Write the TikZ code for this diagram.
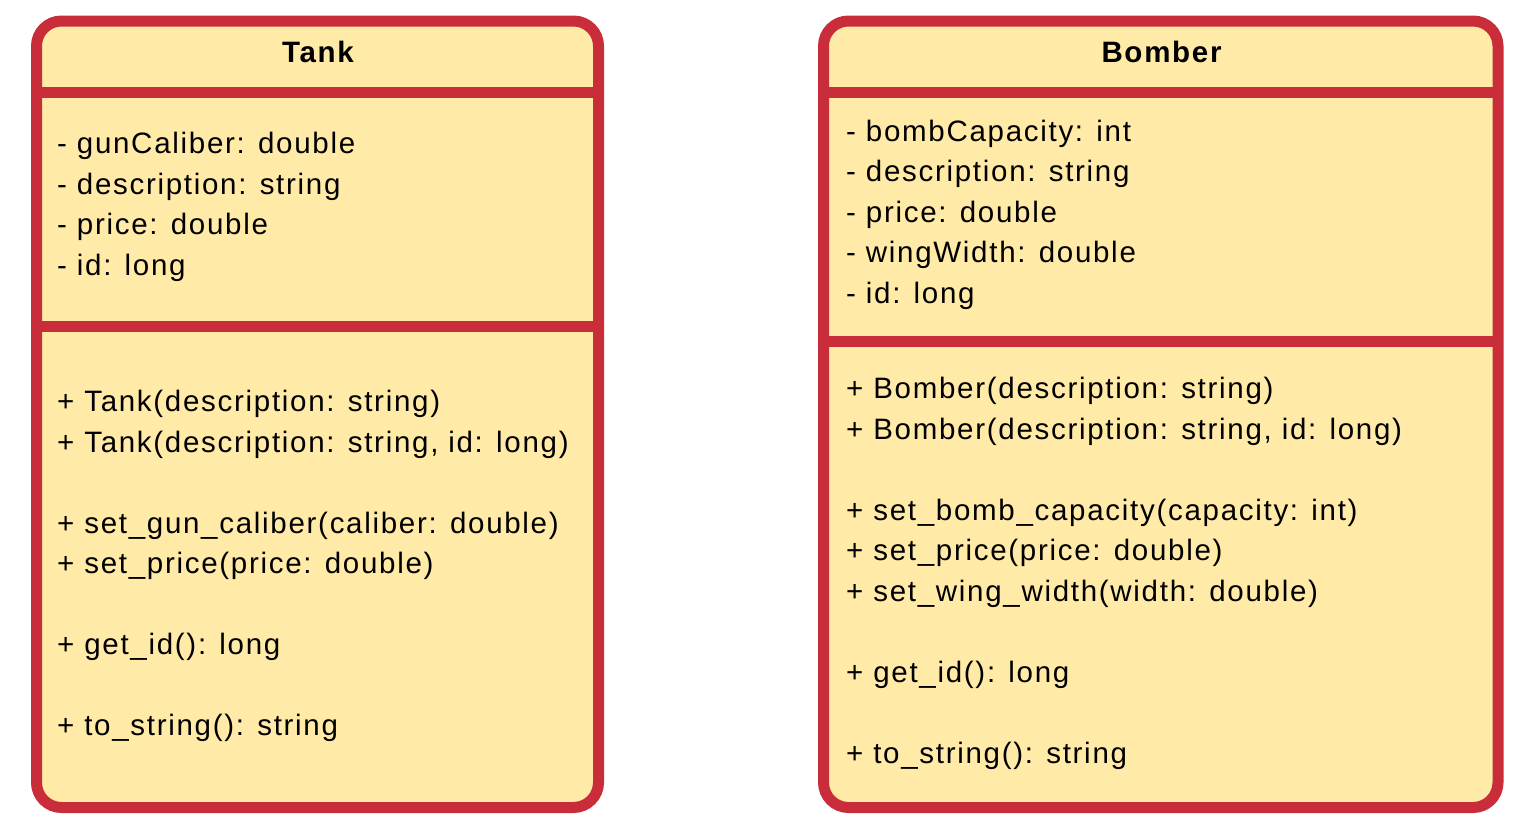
\documentclass[tikz,border=0pt]{standalone}
\usepackage{fontspec}
\setmainfont{Liberation Sans}[LetterSpace=5.8]

\definecolor{classred}{HTML}{C92D39}
\definecolor{classfill}{HTML}{FFEAA7}

\begin{document}
\begin{tikzpicture}[x=1pt,y=-1pt,
    classbox/.style={draw=classred, fill=classfill, line width=11pt, rounded corners=25pt},
    divider/.style={draw=classred, line width=11pt},
    members/.style={anchor=base west, align=left, inner sep=0pt, font=\fontsize{29.5}{40.5}\selectfont},
    classname/.style={anchor=base, inner sep=0pt, font=\fontsize{29.5}{40.5}\selectfont\bfseries}]
    \useasboundingbox (0,0) rectangle (1530,833);

    % Tank (base anchor = last line)
    \draw[classbox] (36.5,21) rectangle (598.5,807.5);
    \draw[divider] (36.5,92) -- (598.5,92);
    \draw[divider] (36.5,326.5) -- (598.5,326.5);

    \node[classname] (tankname) at (318,62.5) {Tank};
    \node[members] (tankattr) at (57,275) {- gunCaliber: double\\- description: string\\- price: double\\- id: long};
    \node[members] (tankops) at (57,735.5) {+ Tank(description: string)\\+ Tank(description: string, id: long)\\[40.5pt]+ set\_gun\_caliber(caliber: double)\\+ set\_price(price: double)\\[40.5pt]+ get\_id(): long\\[40.5pt]+ to\_string(): string};

    % Bomber
    \draw[classbox] (823.5,21) rectangle (1498,807.5);
    \draw[divider] (823.5,92.5) -- (1498,92.5);
    \draw[divider] (823.5,341.5) -- (1498,341.5);

    \node[classname] (bombername) at (1161.5,62.3) {Bomber};
    \node[members] (bomberattr) at (846,303) {- bombCapacity: int\\- description: string\\- price: double\\- wingWidth: double\\- id: long};
    \node[members] (bomberops) at (846,763) {+ Bomber(description: string)\\+ Bomber(description: string, id: long)\\[40.5pt]+ set\_bomb\_capacity(capacity: int)\\+ set\_price(price: double)\\+ set\_wing\_width(width: double)\\[40.5pt]+ get\_id(): long\\[40.5pt]+ to\_string(): string};
\end{tikzpicture}
\end{document}
